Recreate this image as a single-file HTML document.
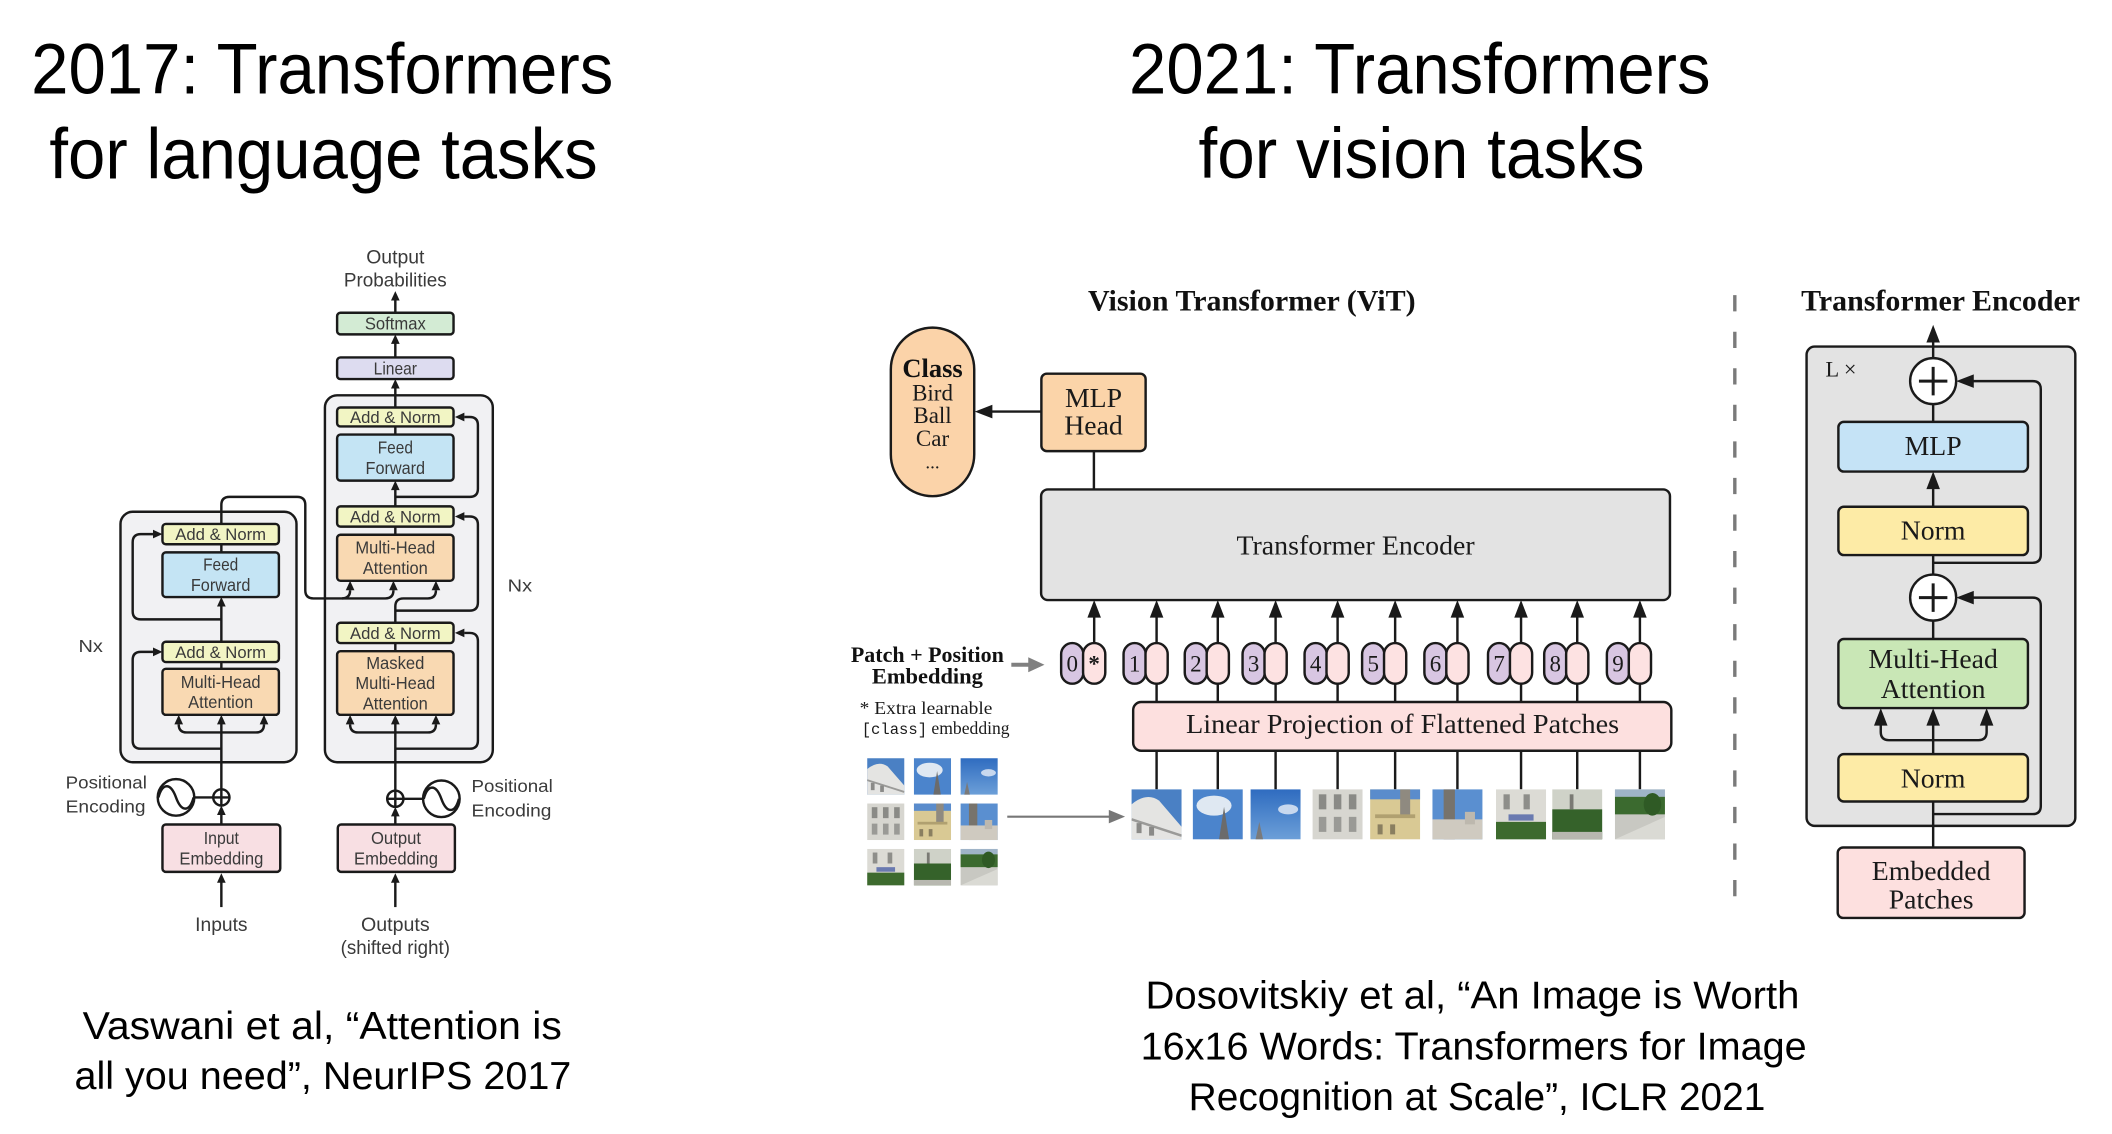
<!DOCTYPE html>
<html><head><meta charset="utf-8"><style>
html,body{margin:0;padding:0;background:#fff;width:2112px;height:1134px;overflow:hidden}
svg{display:block}
</style></head><body>
<svg xmlns="http://www.w3.org/2000/svg" width="2112" height="1134" viewBox="0 0 1560 837.6" preserveAspectRatio="none">
<style>
.T{font-family:"Liberation Sans",sans-serif;fill:#000}
.L{font-family:"Liberation Sans",sans-serif;fill:#3a3a3a;font-size:13px}
.S{font-family:"Liberation Serif",serif;fill:#1a1a1a}
.B{font-family:"Liberation Serif",serif;fill:#111;font-weight:bold}
.k{stroke:#1a1a1a;stroke-width:1.8;fill:none}
.bx{stroke:#1a1a1a;stroke-width:1.8}
.h{fill:#1a1a1a}
</style>
<defs>
<linearGradient id="sky" x1="0" y1="0" x2="0" y2="1"><stop offset="0" stop-color="#2f6cc0"/><stop offset="1" stop-color="#6c9fd8"/></linearGradient>
<symbol id="p1" viewBox="0 0 40 40" preserveAspectRatio="none"><rect width="40" height="40" fill="#4a80c4"/><path d="M0 12 Q12 2 22 9 L40 30 L40 40 L0 40Z" fill="#e4e4e2"/><path d="M0 24 L40 37" stroke="#9a9a98" stroke-width="2"/><rect x="4" y="27" width="4" height="8" fill="#8a8a88"/><rect x="14" y="30" width="4" height="7" fill="#8a8a88"/></symbol>
<symbol id="p2" viewBox="0 0 40 40" preserveAspectRatio="none"><rect width="40" height="40" fill="#4b84cc"/><ellipse cx="17" cy="13" rx="14" ry="8" fill="#dfe8f2"/><polygon points="25,14 21,40 29,40" fill="#6b6b6b"/></symbol>
<symbol id="p3" viewBox="0 0 40 40" preserveAspectRatio="none"><rect width="40" height="40" fill="url(#sky)"/><ellipse cx="30" cy="16" rx="8" ry="4" fill="#c8d8ee"/><polygon points="7,26 4,40 10,40" fill="#7a7a7a"/></symbol>
<symbol id="p4" viewBox="0 0 40 40" preserveAspectRatio="none"><rect width="40" height="40" fill="#d7d6d0"/><rect x="5" y="4" width="6" height="12" fill="#8a8a86"/><rect x="17" y="4" width="6" height="12" fill="#8a8a86"/><rect x="29" y="4" width="6" height="12" fill="#8a8a86"/><rect x="5" y="22" width="6" height="12" fill="#9a9a96"/><rect x="17" y="22" width="6" height="12" fill="#9a9a96"/><rect x="29" y="22" width="6" height="12" fill="#9a9a96"/></symbol>
<symbol id="p5" viewBox="0 0 40 40" preserveAspectRatio="none"><rect width="40" height="40" fill="#d9c994"/><rect width="40" height="8" fill="#5a8ccc"/><rect x="24" y="0" width="8" height="22" fill="#8f8a80"/><rect x="4" y="20" width="32" height="3" fill="#b0a070"/><rect x="6" y="28" width="4" height="8" fill="#8a7f60"/><rect x="16" y="28" width="4" height="8" fill="#8a7f60"/></symbol>
<symbol id="p6" viewBox="0 0 40 40" preserveAspectRatio="none"><rect width="40" height="40" fill="#5a8fd0"/><rect x="9" y="0" width="9" height="40" fill="#77736c"/><rect x="0" y="24" width="40" height="16" fill="#cfcac0"/><rect x="26" y="18" width="8" height="10" fill="#bdb8ae"/></symbol>
<symbol id="p7" viewBox="0 0 40 40" preserveAspectRatio="none"><rect width="40" height="40" fill="#dcdbd5"/><rect x="6" y="4" width="5" height="12" fill="#8e8e8a"/><rect x="22" y="4" width="5" height="12" fill="#8e8e8a"/><rect x="10" y="20" width="20" height="5" fill="#6a7ab0"/><rect x="0" y="26" width="40" height="14" fill="#3d6a2e"/></symbol>
<symbol id="p8" viewBox="0 0 40 40" preserveAspectRatio="none"><rect width="40" height="40" fill="#cfd2c8"/><rect x="0" y="16" width="40" height="24" fill="#35622a"/><rect x="0" y="34" width="40" height="6" fill="#b8b8b0"/><rect x="14" y="4" width="3" height="12" fill="#7a7a74"/></symbol>
<symbol id="p9" viewBox="0 0 40 40" preserveAspectRatio="none"><rect width="40" height="40" fill="#c8c8c2"/><rect x="0" y="0" width="40" height="6" fill="#9fb4c8"/><rect x="0" y="6" width="40" height="14" fill="#3b6a2f"/><ellipse cx="30" cy="12" rx="7" ry="9" fill="#2f5a25"/><path d="M0 40 L40 22 L40 40Z" fill="#dadad4"/></symbol>
</defs>

<!-- Titles -->
<text class="T" x="238" y="69" font-size="53" text-anchor="middle" textLength="430" lengthAdjust="spacingAndGlyphs">2017: Transformers</text>
<text class="T" x="239" y="132" font-size="53" text-anchor="middle" textLength="405" lengthAdjust="spacingAndGlyphs">for language tasks</text>
<text class="T" x="1048.7" y="69" font-size="53" text-anchor="middle" textLength="429.5" lengthAdjust="spacingAndGlyphs">2021: Transformers</text>
<text class="T" x="1050" y="131.5" font-size="53" text-anchor="middle" textLength="329.5" lengthAdjust="spacingAndGlyphs">for vision tasks</text>

<!-- Captions -->
<text class="T" x="238" y="767.5" font-size="29" text-anchor="middle" textLength="354" lengthAdjust="spacingAndGlyphs">Vaswani et al, “Attention is</text>
<text class="T" x="238.5" y="804.5" font-size="29" text-anchor="middle" textLength="367" lengthAdjust="spacingAndGlyphs">all you need”, NeurIPS 2017</text>
<text class="T" x="1087.6" y="745" font-size="29" text-anchor="middle" textLength="483" lengthAdjust="spacingAndGlyphs">Dosovitskiy et al, “An Image is Worth</text>
<text class="T" x="1088.5" y="782.5" font-size="29" text-anchor="middle" textLength="492" lengthAdjust="spacingAndGlyphs">16x16 Words: Transformers for Image</text>
<text class="T" x="1091" y="820" font-size="29" text-anchor="middle" textLength="426" lengthAdjust="spacingAndGlyphs">Recognition at Scale”, ICLR 2021</text>

<!-- ===== Left: original Transformer ===== -->
<rect class="bx" x="89" y="378" width="130" height="185" rx="9" fill="#f1f1f3"/>
<rect class="bx" x="240" y="292" width="124" height="271" rx="9" fill="#f1f1f3"/>

<path class="k" d="M163.5,670 V651"/>
<path class="k" d="M163.5,609 V601"/>
<path class="k" d="M163.5,583 V534"/>
<path class="k" d="M163.5,541 H138 Q132,541 132,535"/>
<path class="k" d="M163.5,541 H189 Q195,541 195,535"/>
<path class="k" d="M163.5,553 H104 Q98,553 98,547 V487.5 Q98,481.5 104,481.5 H113"/>
<path class="k" d="M163.5,494 V489"/>
<path class="k" d="M163.5,474 V447"/>
<path class="k" d="M163.5,457.5 H104 Q98,457.5 98,451.5 V400.5 Q98,394.5 104,394.5 H113"/>
<path class="k" d="M163.5,408 V402"/>
<path class="k" d="M163.5,387 V373 Q163.5,367 169.5,367 H219.5 Q225.5,367 225.5,373 V436 Q225.5,442 231.5,442 H284.6 Q290.6,442 290.6,436"/>
<path class="k" d="M252.6,442 Q258.6,442 258.6,436"/>
<path class="k" d="M292,670 V651"/>
<path class="k" d="M292,609 V602"/>
<path class="k" d="M292,584 V534"/>
<path class="k" d="M292,541 H264.6 Q258.6,541 258.6,535"/>
<path class="k" d="M292,541 H316 Q322,541 322,535"/>
<path class="k" d="M292,553 H347 Q353,553 353,547 V473.5 Q353,467.5 347,467.5 H343"/>
<path class="k" d="M292,481 V475"/>
<path class="k" d="M292,460 V448 Q292,442 298,442 H316 Q322,442 322,436"/>
<path class="k" d="M292,451 H347 Q353,451 353,445 V387.5 Q353,381.5 347,381.5 H343"/>
<path class="k" d="M292,395 V389"/>
<path class="k" d="M292,374 V361"/>
<path class="k" d="M292,367 H347 Q353,367 353,361 V314 Q353,308 347,308 H343"/>
<path class="k" d="M292,321 V315"/>
<path class="k" d="M292,301 V286"/>
<path class="k" d="M292,264 V253"/>
<path class="k" d="M292,231 V221"/>
<path class="k" d="M143.5,589 H157.5"/>
<circle class="k" cx="130" cy="589" r="13.5"/>
<path class="k" d="M117,589 C120,578 126,578 130,589 C134,600 140,600 143,589"/>
<circle class="k" cx="163.5" cy="589" r="6" fill="#fff"/>
<path class="k" d="M157.5,589 H169.5 M163.5,583 V595"/>
<path class="k" d="M298,590 H312.5"/>
<circle class="k" cx="326" cy="590" r="13.5"/>
<path class="k" d="M313,590 C316,579 322,579 326,590 C330,601 336,601 339,590"/>
<circle class="k" cx="292" cy="590" r="6" fill="#fff"/>
<path class="k" d="M286,590 H298 M292,584 V596"/>

<g class="h">
<polygon points="292,215 288.8,222 295.2,222"/>
<polygon points="292,247 288.8,254 295.2,254"/>
<polygon points="292,280 288.8,287 295.2,287"/>
<polygon points="292,355 288.8,362 295.2,362"/>
<polygon points="258.6,429 255.4,436 261.8,436"/>
<polygon points="290.6,429 287.4,436 293.8,436"/>
<polygon points="322,429 318.8,436 325.2,436"/>
<polygon points="258.6,528 255.4,535 261.8,535"/>
<polygon points="292,528 288.8,535 295.2,535"/>
<polygon points="322,528 318.8,535 325.2,535"/>
<polygon points="292,596 288.8,603 295.2,603"/>
<polygon points="292,645 288.8,652 295.2,652"/>
<polygon points="163.5,441 160.3,448 166.7,448"/>
<polygon points="132,528 128.8,535 135.2,535"/>
<polygon points="163.5,528 160.3,535 166.7,535"/>
<polygon points="195,528 191.8,535 198.2,535"/>
<polygon points="163.5,595 160.3,602 166.7,602"/>
<polygon points="163.5,645 160.3,652 166.7,652"/>
<polygon points="120,394.5 113,391.3 113,397.7"/>
<polygon points="120,481.5 113,478.3 113,484.7"/>
<polygon points="336,308 343,304.8 343,311.2"/>
<polygon points="336,381.5 343,378.3 343,384.7"/>
<polygon points="336,467.5 343,464.3 343,470.7"/>
</g>

<rect class="bx" x="249" y="231" width="86" height="16" rx="2.5" fill="#d3ebd4"/>
<rect class="bx" x="249" y="264" width="86" height="16" rx="2.5" fill="#dddcf0"/>
<rect class="bx" x="249" y="301" width="86" height="14" rx="2.5" fill="#f2f5c4"/>
<rect class="bx" x="249" y="321" width="86" height="34" rx="2.5" fill="#c4e4f4"/>
<rect class="bx" x="249" y="374" width="86" height="15" rx="2.5" fill="#f2f5c4"/>
<rect class="bx" x="249" y="395" width="86" height="34" rx="2.5" fill="#f9d9b2"/>
<rect class="bx" x="249" y="460" width="86" height="15" rx="2.5" fill="#f2f5c4"/>
<rect class="bx" x="249" y="481" width="86" height="47" rx="2.5" fill="#f9d9b2"/>
<rect class="bx" x="120" y="387" width="86" height="15" rx="2.5" fill="#f2f5c4"/>
<rect class="bx" x="120" y="408" width="86" height="33" rx="2.5" fill="#c4e4f4"/>
<rect class="bx" x="120" y="474" width="86" height="15" rx="2.5" fill="#f2f5c4"/>
<rect class="bx" x="120" y="494" width="86" height="34" rx="2.5" fill="#f9d9b2"/>
<rect class="bx" x="120" y="609" width="87" height="35" rx="2.5" fill="#f8dfe3"/>
<rect class="bx" x="249.5" y="609" width="86.5" height="35" rx="2.5" fill="#f8dfe3"/>

<g class="L" text-anchor="middle">
<text x="292" y="194.5" font-size="14" textLength="43" lengthAdjust="spacingAndGlyphs">Output</text>
<text x="292" y="211.5" font-size="14" textLength="76" lengthAdjust="spacingAndGlyphs">Probabilities</text>
<text x="292" y="243.5" textLength="45" lengthAdjust="spacingAndGlyphs">Softmax</text>
<text x="292" y="276.5" textLength="32" lengthAdjust="spacingAndGlyphs">Linear</text>
<text x="292" y="312.5" font-size="12.5" textLength="67" lengthAdjust="spacingAndGlyphs">Add &amp; Norm</text>
<text x="292" y="335" textLength="26" lengthAdjust="spacingAndGlyphs">Feed</text>
<text x="292" y="350" textLength="44" lengthAdjust="spacingAndGlyphs">Forward</text>
<text x="292" y="386" font-size="12.5" textLength="67" lengthAdjust="spacingAndGlyphs">Add &amp; Norm</text>
<text x="292" y="409" textLength="59" lengthAdjust="spacingAndGlyphs">Multi-Head</text>
<text x="292" y="424" textLength="48" lengthAdjust="spacingAndGlyphs">Attention</text>
<text x="292" y="472" font-size="12.5" textLength="67" lengthAdjust="spacingAndGlyphs">Add &amp; Norm</text>
<text x="292" y="494" textLength="43" lengthAdjust="spacingAndGlyphs">Masked</text>
<text x="292" y="509" textLength="59" lengthAdjust="spacingAndGlyphs">Multi-Head</text>
<text x="292" y="524" textLength="48" lengthAdjust="spacingAndGlyphs">Attention</text>
<text x="163" y="399" font-size="12.5" textLength="67" lengthAdjust="spacingAndGlyphs">Add &amp; Norm</text>
<text x="163" y="421.5" textLength="26" lengthAdjust="spacingAndGlyphs">Feed</text>
<text x="163" y="436.5" textLength="44" lengthAdjust="spacingAndGlyphs">Forward</text>
<text x="163" y="486" font-size="12.5" textLength="67" lengthAdjust="spacingAndGlyphs">Add &amp; Norm</text>
<text x="163" y="508" textLength="59" lengthAdjust="spacingAndGlyphs">Multi-Head</text>
<text x="163" y="523" textLength="48" lengthAdjust="spacingAndGlyphs">Attention</text>
<text x="163.5" y="623.5" textLength="26" lengthAdjust="spacingAndGlyphs">Input</text>
<text x="163.5" y="638.5" textLength="62" lengthAdjust="spacingAndGlyphs">Embedding</text>
<text x="292.5" y="623.5" textLength="37" lengthAdjust="spacingAndGlyphs">Output</text>
<text x="292.5" y="638.5" textLength="62" lengthAdjust="spacingAndGlyphs">Embedding</text>
<text x="163.5" y="687.5" font-size="14" textLength="38.7" lengthAdjust="spacingAndGlyphs">Inputs</text>
<text x="292" y="687.5" font-size="14" textLength="50.7" lengthAdjust="spacingAndGlyphs">Outputs</text>
<text x="292" y="704.5" font-size="14" textLength="80.7" lengthAdjust="spacingAndGlyphs">(shifted right)</text>
</g>
<g class="L" font-size="14">
<text x="48.5" y="582.5" textLength="60" lengthAdjust="spacingAndGlyphs">Positional</text>
<text x="48.5" y="600" textLength="59" lengthAdjust="spacingAndGlyphs">Encoding</text>
<text x="348.3" y="585" textLength="60" lengthAdjust="spacingAndGlyphs">Positional</text>
<text x="348.3" y="603" textLength="59" lengthAdjust="spacingAndGlyphs">Encoding</text>
<text x="58" y="481.5" textLength="18" lengthAdjust="spacingAndGlyphs">Nx</text>
<text x="375" y="437" textLength="18" lengthAdjust="spacingAndGlyphs">Nx</text>
</g>

<!-- ===== ViT ===== -->
<text class="B" x="924.6" y="229.5" font-size="22" text-anchor="middle" textLength="242" lengthAdjust="spacingAndGlyphs">Vision Transformer (ViT)</text>

<rect class="bx" x="658" y="242" width="61.6" height="124.5" rx="30.8" fill="#fbd3a9"/>
<text class="B" x="688.8" y="278.5" font-size="19.5" text-anchor="middle" textLength="44.6" lengthAdjust="spacingAndGlyphs">Class</text>
<g class="S" font-size="17" text-anchor="middle">
<text x="688.8" y="296">Bird</text>
<text x="688.8" y="312.5">Ball</text>
<text x="688.8" y="329.5">Car</text>
<text x="688.8" y="346" font-size="14">...</text>
</g>

<path class="k" d="M769.2,304 H732"/>
<polygon class="h" points="720,304 733,299 733,309"/>
<path class="k" d="M808,333 V362"/>
<rect class="bx" x="769.2" y="276" width="77" height="57.2" rx="4" fill="#fbd4a9"/>
<text class="S" x="807.7" y="300.5" font-size="20.5" text-anchor="middle">MLP</text>
<text class="S" x="807.7" y="321" font-size="20.5" text-anchor="middle">Head</text>

<rect class="bx" x="769" y="361.5" width="464.5" height="81.7" rx="5" fill="#e3e3e3"/>
<text class="S" x="1001.3" y="409.5" font-size="20.5" text-anchor="middle" textLength="176" lengthAdjust="spacingAndGlyphs">Transformer Encoder</text>

<g class="k">
<path d="M808.2,475 V455 M854.3,475 V455 M899.5,475 V455 M942.2,475 V455 M988,475 V455 M1030.5,475 V455 M1076.5,475 V455 M1123.5,475 V455 M1165,475 V455 M1211.3,475 V455"/>
<path d="M854.3,505 V518.5 M899.5,505 V518.5 M942.2,505 V518.5 M988,505 V518.5 M1030.5,505 V518.5 M1076.5,505 V518.5 M1123.5,505 V518.5 M1165,505 V518.5 M1211.3,505 V518.5"/>
<path d="M854.3,554.5 V583 M899.5,554.5 V583 M942.2,554.5 V583 M988,554.5 V583 M1030.5,554.5 V583 M1076.5,554.5 V583 M1123.5,554.5 V583 M1165,554.5 V583 M1211.3,554.5 V583"/>
</g>
<g class="h">
<polygon points="808.2,443.2 803.2,456.2 813.2,456.2"/>
<polygon points="854.3,443.2 849.3,456.2 859.3,456.2"/>
<polygon points="899.5,443.2 894.5,456.2 904.5,456.2"/>
<polygon points="942.2,443.2 937.2,456.2 947.2,456.2"/>
<polygon points="988,443.2 983,456.2 993,456.2"/>
<polygon points="1030.5,443.2 1025.5,456.2 1035.5,456.2"/>
<polygon points="1076.5,443.2 1071.5,456.2 1081.5,456.2"/>
<polygon points="1123.5,443.2 1118.5,456.2 1128.5,456.2"/>
<polygon points="1165,443.2 1160,456.2 1170,456.2"/>
<polygon points="1211.3,443.2 1206.3,456.2 1216.3,456.2"/>
</g>

<g class="bx" stroke-width="1.5">
<rect x="783.8" y="475" width="16.4" height="30" rx="8.2" fill="#d8c6e2"/><rect x="800" y="475" width="16.4" height="30" rx="8.2" fill="#fde2e2"/>
<rect x="829.9" y="475" width="16.4" height="30" rx="8.2" fill="#d8c6e2"/><rect x="846.1" y="475" width="16.4" height="30" rx="8.2" fill="#fde2e2"/>
<rect x="875.1" y="475" width="16.4" height="30" rx="8.2" fill="#d8c6e2"/><rect x="891.3" y="475" width="16.4" height="30" rx="8.2" fill="#fde2e2"/>
<rect x="917.8" y="475" width="16.4" height="30" rx="8.2" fill="#d8c6e2"/><rect x="934" y="475" width="16.4" height="30" rx="8.2" fill="#fde2e2"/>
<rect x="963.6" y="475" width="16.4" height="30" rx="8.2" fill="#d8c6e2"/><rect x="979.8" y="475" width="16.4" height="30" rx="8.2" fill="#fde2e2"/>
<rect x="1006.1" y="475" width="16.4" height="30" rx="8.2" fill="#d8c6e2"/><rect x="1022.3" y="475" width="16.4" height="30" rx="8.2" fill="#fde2e2"/>
<rect x="1052.1" y="475" width="16.4" height="30" rx="8.2" fill="#d8c6e2"/><rect x="1068.3" y="475" width="16.4" height="30" rx="8.2" fill="#fde2e2"/>
<rect x="1099.1" y="475" width="16.4" height="30" rx="8.2" fill="#d8c6e2"/><rect x="1115.3" y="475" width="16.4" height="30" rx="8.2" fill="#fde2e2"/>
<rect x="1140.6" y="475" width="16.4" height="30" rx="8.2" fill="#d8c6e2"/><rect x="1156.8" y="475" width="16.4" height="30" rx="8.2" fill="#fde2e2"/>
<rect x="1186.9" y="475" width="16.4" height="30" rx="8.2" fill="#d8c6e2"/><rect x="1203.1" y="475" width="16.4" height="30" rx="8.2" fill="#fde2e2"/>
</g>
<g class="S" font-size="17" text-anchor="middle" fill="#333">
<text x="792" y="496">0</text><text x="808.2" y="496" font-weight="bold">*</text>
<text x="838.1" y="496">1</text><text x="883.3" y="496">2</text><text x="926" y="496">3</text>
<text x="971.8" y="496">4</text><text x="1014.3" y="496">5</text><text x="1060.3" y="496">6</text>
<text x="1107.3" y="496">7</text><text x="1148.8" y="496">8</text><text x="1195.1" y="496">9</text>
</g>

<rect class="bx" x="837" y="518.5" width="397.5" height="36" rx="6" fill="#fde0df"/>
<text class="S" x="1036" y="541.5" font-size="20.5" text-anchor="middle" textLength="320" lengthAdjust="spacingAndGlyphs">Linear Projection of Flattened Patches</text>

<use href="#p1" x="835.8" y="583" width="37" height="37"/>
<use href="#p2" x="881" y="583" width="37" height="37"/>
<use href="#p3" x="923.7" y="583" width="37" height="37"/>
<use href="#p4" x="969.5" y="583" width="37" height="37"/>
<use href="#p5" x="1012" y="583" width="37" height="37"/>
<use href="#p6" x="1058" y="583" width="37" height="37"/>
<use href="#p7" x="1105" y="583" width="37" height="37"/>
<use href="#p8" x="1146.5" y="583" width="37" height="37"/>
<use href="#p9" x="1192.8" y="583" width="37" height="37"/>

<use href="#p1" x="640.5" y="560" width="27.5" height="27"/>
<use href="#p2" x="675" y="560" width="27.5" height="27"/>
<use href="#p3" x="709.5" y="560" width="27.5" height="27"/>
<use href="#p4" x="640.5" y="593.5" width="27.5" height="27"/>
<use href="#p5" x="675" y="593.5" width="27.5" height="27"/>
<use href="#p6" x="709.5" y="593.5" width="27.5" height="27"/>
<use href="#p7" x="640.5" y="627" width="27.5" height="27"/>
<use href="#p8" x="675" y="627" width="27.5" height="27"/>
<use href="#p9" x="709.5" y="627" width="27.5" height="27"/>

<path d="M744,603.2 H820" stroke="#777" stroke-width="1.6"/>
<polygon points="831,603.2 819,598.2 819,608.2" fill="#777"/>
<path d="M747,491 H760" stroke="#808080" stroke-width="3"/>
<polygon points="771.5,491 759.5,485.5 759.5,496.5" fill="#808080"/>

<text class="B" x="685" y="489" font-size="16.3" text-anchor="middle" textLength="113" lengthAdjust="spacingAndGlyphs">Patch + Position</text>
<text class="B" x="685" y="505" font-size="16.3" text-anchor="middle" textLength="82" lengthAdjust="spacingAndGlyphs">Embedding</text>
<text class="S" x="635" y="527.5" font-size="13" textLength="98" lengthAdjust="spacingAndGlyphs">* Extra learnable</text>
<text class="S" x="636.5" y="542" font-size="13"><tspan font-family="Liberation Mono, monospace" font-size="11.5">[class]</tspan> embedding</text>

<!-- ===== Right encoder ===== -->
<g transform="translate(-6.6,0)">
<path d="M1288,218 V670" stroke="#7a7a7a" stroke-width="2.5" stroke-dasharray="12 15"/>
<text class="B" x="1440" y="229.5" font-size="22" text-anchor="middle" textLength="206" lengthAdjust="spacingAndGlyphs">Transformer Encoder</text>

<rect class="bx" x="1341" y="256" width="198.5" height="354" rx="6" fill="#e3e3e3"/>
<text class="S" x="1355" y="278" font-size="16.5">L ×</text>

<g class="k">
<path d="M1434.5,264.5 V252"/>
<path d="M1434.5,311.6 V298.5"/>
<path d="M1434.5,374.3 V360"/>
<path d="M1434.5,424.5 V410"/>
<path d="M1434.5,415.7 H1508 Q1514,415.7 1514,409.7 V287.5 Q1514,281.5 1508,281.5 H1463"/>
<path d="M1434.5,472 V458.4"/>
<path d="M1434.5,601.3 H1508 Q1514,601.3 1514,595.3 V447.4 Q1514,441.4 1508,441.4 H1463"/>
<path d="M1434.5,557 V535"/>
<path d="M1434.5,546.7 H1401.8 Q1395.8,546.7 1395.8,540.7 V535"/>
<path d="M1434.5,546.7 H1468 Q1474,546.7 1474,540.7 V535"/>
<path d="M1434.5,626 V592"/>
</g>
<g class="h">
<polygon points="1434.5,240 1429.5,253 1439.5,253"/>
<polygon points="1434.5,348.3 1429.5,361.3 1439.5,361.3"/>
<polygon points="1451.5,281.5 1464.5,276.5 1464.5,286.5"/>
<polygon points="1451.5,441.4 1464.5,436.4 1464.5,446.4"/>
<polygon points="1395.8,523 1390.8,536 1400.8,536"/>
<polygon points="1434.5,523 1429.5,536 1439.5,536"/>
<polygon points="1474,523 1469,536 1479,536"/>
</g>

<circle class="bx" cx="1434.5" cy="281.5" r="17" fill="#fff"/>
<path d="M1424,281.5 H1445 M1434.5,271 V292" stroke="#1a1a1a" stroke-width="2.2"/>
<circle class="bx" cx="1434.5" cy="441.4" r="17" fill="#fff"/>
<path d="M1424,441.4 H1445 M1434.5,430.9 V451.9" stroke="#1a1a1a" stroke-width="2.2"/>

<rect class="bx" x="1364.5" y="311.6" width="140" height="36.7" rx="4" fill="#c5e3f6"/>
<rect class="bx" x="1364.5" y="374.3" width="140" height="35.7" rx="4" fill="#fdeba6"/>
<rect class="bx" x="1364.5" y="472" width="140" height="51" rx="4" fill="#c9e7b6"/>
<rect class="bx" x="1364.5" y="557" width="140" height="35" rx="4" fill="#fdeba6"/>
<rect class="bx" x="1364" y="626" width="138" height="52" rx="4" fill="#fde0df"/>

<g class="S" font-size="20.5" text-anchor="middle">
<text x="1434.5" y="336">MLP</text>
<text x="1434.5" y="398.5">Norm</text>
<text x="1434.5" y="493.5">Multi-Head</text>
<text x="1434.5" y="515.5">Attention</text>
<text x="1434.5" y="581.5">Norm</text>
<text x="1433" y="650">Embedded</text>
<text x="1433" y="671">Patches</text>
</g>
</g>
</svg>
</body></html>
